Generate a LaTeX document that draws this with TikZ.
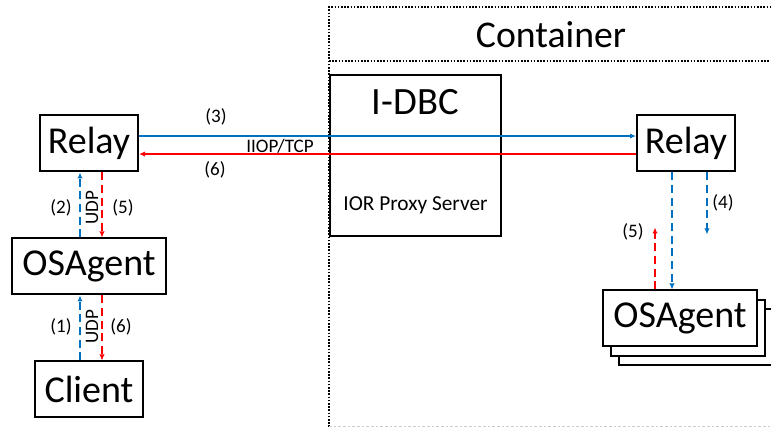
\documentclass[tikz,border=0pt]{standalone}
\usepackage{fontspec}
\setmainfont{Carlito}
\usetikzlibrary{arrows.meta, positioning, shadows}
\definecolor{linkBlue}{RGB}{0,112,192}
\definecolor{linkRed}{RGB}{255,0,0}
\begin{document}
\begin{tikzpicture}[
    x=0.75pt, y=-0.75pt,
    box/.style={rectangle, draw, line width=1.5pt, fill=white, minimum height=42pt, inner sep=0pt, font=\fontsize{28.5}{32}\selectfont},
    lbl/.style={inner sep=0pt, font=\fontsize{14.3}{16}\selectfont},
    bl/.style={draw=linkBlue, line width=1.5pt},
    rd/.style={draw=linkRed, line width=1.5pt},
    dsh/.style={dash pattern=on 6pt off 3.5pt},
    cont/.style={line width=1.2pt, dash pattern=on 1.2pt off 1.2pt},
    >={Latex[length=4.5pt,width=4pt]}
]
\useasboundingbox (0,0) rectangle (771,427);

% container frame
\draw[cont] (329,427) -- (329,7) -- (771,7);
\draw[cont] (329,61) -- (771,61);
\draw[black!20, line width=0.6pt, dash pattern=on 2pt off 1.5pt] (329,426) -- (771,426);
\node[inner sep=0pt, font=\fontsize{28.3}{32}\selectfont] (cont) at (551,35) {Container};

% client side
\node[box, minimum width=73.5pt] (relayL) at (89,143.5) {Relay};
\node[box, minimum width=115.5pt, below=48.75pt of relayL] (osaL) {OSAgent};
\node[box, minimum width=81pt, below=48.75pt of osaL] (client) {Client};

% server side
\node[box, minimum width=128.25pt, minimum height=120.75pt] (idbc) at (415.5,155.5) {};
\node[inner sep=0pt, font=\fontsize{29}{33}\selectfont] (idbcT) at ([yshift=-21pt]idbc.north) {I-DBC};
\node[inner sep=0pt, font=\fontsize{16}{18}\selectfont] (idbcS) at ([yshift=24pt]idbc.south) {IOR Proxy Server};
\node[box, minimum width=73.5pt, right=372.75pt of relayL] (relayR) {Relay};
\node[box, minimum width=115.5pt, below=87.75pt of relayR, xshift=-4.5pt,
      double copy shadow={shadow xshift=6pt, shadow yshift=-7pt, draw, line width=1.5pt, fill=white}] (osaR) {OSAgent};

% IIOP/TCP
\draw[bl, ->] ([yshift=5.6pt]relayL.east) -- ([yshift=5.6pt]relayR.west);
\draw[rd, ->] ([yshift=-7.9pt]relayR.west) -- ([yshift=-7.9pt]relayL.east);
\node[lbl] (n3) at (216,117) {(3)};
\node[lbl] (tcp) at (280,146) {IIOP/TCP};
\node[lbl] (n6a) at (215,170) {(6)};

% UDP, client side
\draw[bl, dsh, ->] ([xshift=-6.75pt]osaL.north) -- ([xshift=-6.75pt]relayL.south);
\draw[rd, dsh, ->] ([xshift=9.75pt]relayL.south) -- ([xshift=9.75pt]osaL.north);
\node[lbl] (n2) at (61,208) {(2)};
\node[lbl, rotate=90] (udp1) at (92,208) {UDP};
\node[lbl] (n5a) at (123,208) {(5)};

\draw[bl, dsh, ->] ([xshift=-6.75pt]client.north) -- ([xshift=-6.75pt]osaL.south);
\draw[rd, dsh, ->] ([xshift=9.75pt]osaL.south) -- ([xshift=9.75pt]client.north);
\node[lbl] (n1) at (61,327) {(1)};
\node[lbl, rotate=90] (udp2) at (92,327) {UDP};
\node[lbl] (n6b) at (121,327) {(6)};

% server side broadcast
\coordinate (bcEnd) at ([xshift=15.75pt, yshift=-46.5pt]relayR.south);
\coordinate (repEnd) at ([xshift=-18.75pt, yshift=46.5pt]osaR.north);
\draw[bl, dsh, ->] ([xshift=-10.5pt]relayR.south) -- ([xshift=-10.5pt]relayR.south |- osaR.north);
\draw[bl, dsh, ->] ([xshift=15.75pt]relayR.south) -- (bcEnd);
\draw[rd, dsh, ->] ([xshift=-18.75pt]osaR.north) -- (repEnd);
\node[lbl] (n4) at (723,203) {(4)};
\node[lbl] (n5b) at (633,232) {(5)};
\end{tikzpicture}
\end{document}
